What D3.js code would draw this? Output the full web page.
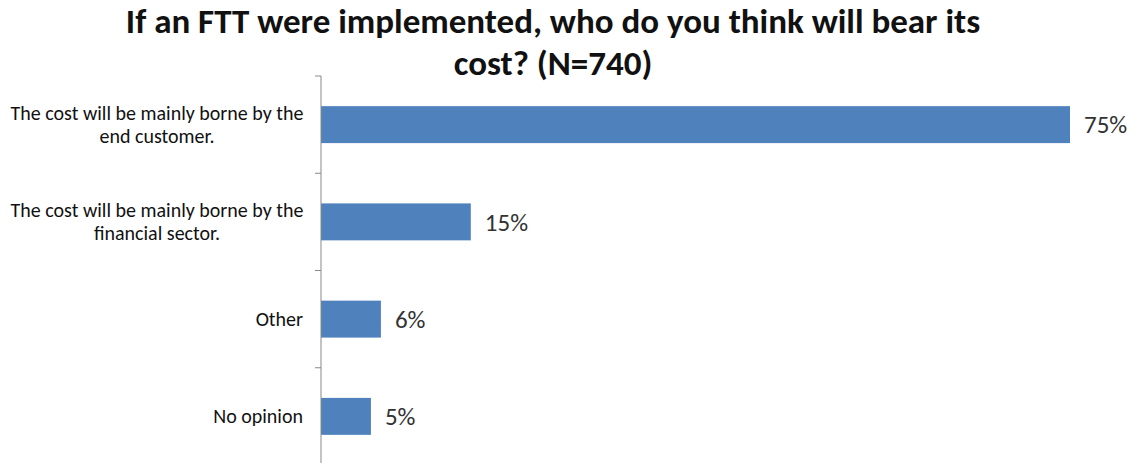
<!DOCTYPE html>
<html>
<head>
<meta charset="utf-8">
<script src="https://cdn.jsdelivr.net/npm/d3@7"></script>
<style>
  body { margin: 0; background: #fff; }
  svg text { font-family: Carlito, "Open Sans", "Noto Sans", sans-serif; }
</style>
</head>
<body>
<svg id="chart" width="1137" height="463"></svg>
<script>
// Survey answers and their shares (percent)
const categories = [
  ["The cost will be mainly borne by the", "end customer."],
  ["The cost will be mainly borne by the", "financial sector."],
  ["Other"],
  ["No opinion"]
];
const values = [75, 15, 6, 5];
const valueLabels = ["75%", "15%", "6%", "5%"];
const titleLines = ["If an FTT were implemented, who do you think will bear its", "cost? (N=740)"];

const svg = d3.select("#chart");
const axisX = 321, plotTop = 76, plotBottom = 465;

const x = d3.scaleLinear().domain([0, 75]).range([axisX, 1070]);
const y = d3.scaleBand().domain(d3.range(values.length)).range([plotTop, plotBottom]).paddingInner(0.62).paddingOuter(0.31);

// Title
svg.append("g").selectAll("text").data(titleLines).join("text")
  .attr("x", 553).attr("y", (d, i) => 33 + i * 42)
  .attr("text-anchor", "middle")
  .attr("font-size", 35).attr("font-weight", "bold").attr("fill", "#111")
  .text(d => d);

// Bars
svg.append("g").selectAll("rect").data(values).join("rect")
  .attr("x", axisX).attr("y", (d, i) => y(i))
  .attr("width", d => x(d) - axisX).attr("height", y.bandwidth())
  .attr("fill", "#4F81BD");

// Value labels
svg.append("g").selectAll("text").data(values).join("text")
  .attr("x", d => x(d) + 14).attr("y", (d, i) => y(i) + y.bandwidth() / 2)
  .attr("dy", "0.35em").attr("font-size", 25).attr("fill", "#333")
  .text((d, i) => valueLabels[i]);

// Category axis with tick marks between categories
const g = svg.append("g");
g.append("line").attr("x1", axisX).attr("x2", axisX).attr("y1", plotTop).attr("y2", plotBottom)
  .attr("stroke", "#888").attr("stroke-width", 1);
const step = (plotBottom - plotTop) / values.length;
g.selectAll("line.tick").data(d3.range(values.length + 1)).join("line").attr("class", "tick")
  .attr("x1", axisX - 6).attr("x2", axisX).attr("y1", i => plotTop + i * step).attr("y2", i => plotTop + i * step)
  .attr("stroke", "#888");

g.selectAll("text.cat").data(categories).join("text").attr("class", "cat")
  .attr("font-size", 20).attr("fill", "#111")
  .each(function(lines, i) {
    const t = d3.select(this);
    const cy = y(i) + y.bandwidth() / 2;
    const lh = 23;
    const single = lines.length === 1;
    lines.forEach((ln, j) => {
      t.append("tspan")
        .attr("x", single ? 303 : 157)
        .attr("text-anchor", single ? "end" : "middle")
        .attr("y", cy + (j - (lines.length - 1) / 2) * lh)
        .attr("dy", "0.35em")
        .text(ln);
    });
  });
</script>
</body>
</html>
